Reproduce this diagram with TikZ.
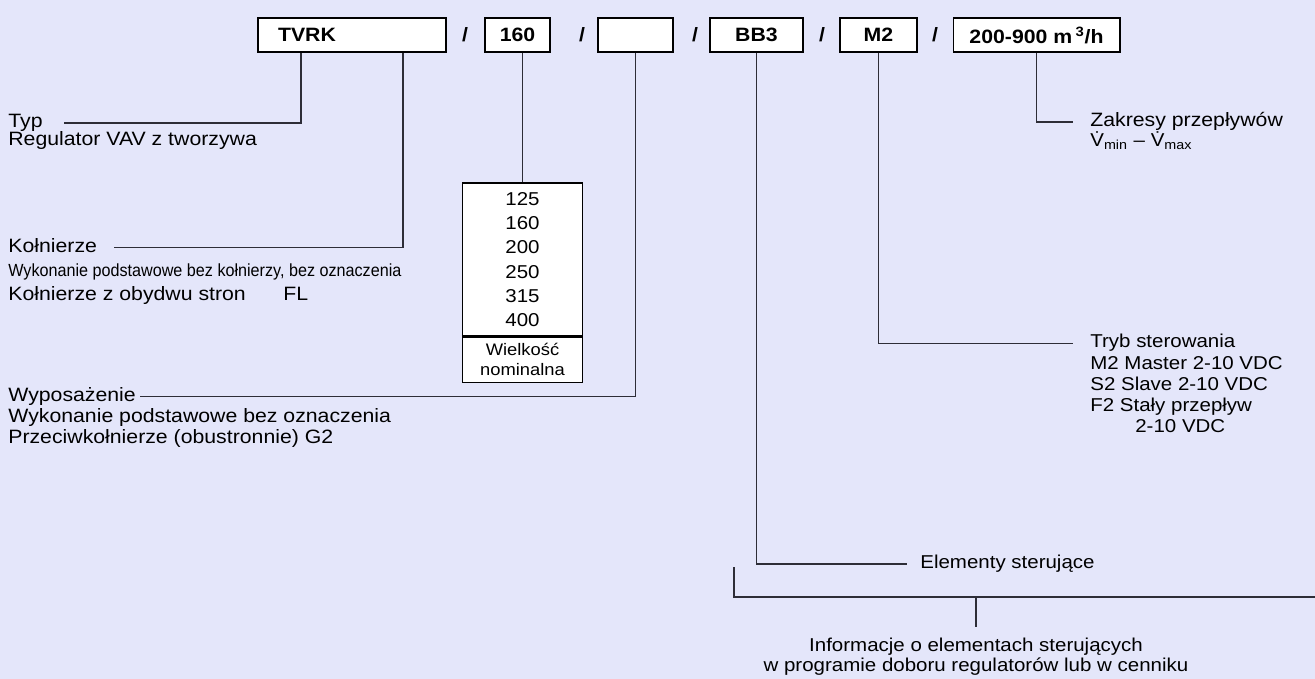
\documentclass[tikz,border=0pt]{standalone}
\usepackage{fontspec}
\setmainfont[FakeStretch=1.1]{Liberation Sans}
\newfontfamily\narrowfont[FakeStretch=0.92]{Liberation Sans}
\usetikzlibrary{positioning}
\definecolor{bgpanel}{RGB}{228,230,250}
\definecolor{leadgray}{RGB}{45,45,55}
\begin{document}
\begin{tikzpicture}[
  x=0.02cm, y=-0.02cm,
  codebox/.style={rectangle, draw=black, fill=white, line width=0.6pt, minimum height=0.68cm, inner sep=0pt, font=\fontsize{11}{12}\selectfont\bfseries},
  tablebox/.style={rectangle, draw=black, fill=white, line width=0.6pt, minimum width=2.4cm, inner sep=0pt, align=center},
  slash/.style={inner sep=0pt, font=\fontsize{11}{12}\selectfont\bfseries},
  lbltitle/.style={anchor=mid west, inner sep=0pt},
  lbltext/.style={anchor=base west, inner sep=0pt, align=left},
  leftfont/.style={font=\fontsize{11}{11.9}\selectfont},
  lead/.style={draw=leadgray, line width=0.7pt},
  font=\fontsize{10.6}{11.9}\selectfont
]
\fill[bgpanel] (0,0) rectangle (1315,679);
\useasboundingbox (0,0) rectangle (1315,679);

% code boxes
\node[codebox, minimum width=3.76cm, text width=2.96cm, inner xsep=0.4cm, align=left] (tvrk) at (352,35) {TVRK};
\node[codebox, minimum width=1.3cm] (size) at (517.5,35) {160};
\node[codebox, minimum width=1.5cm] (equip) at (635.5,35) {};
\node[codebox, minimum width=1.86cm] (ctrl) at (756.5,35) {BB3};
\node[codebox, minimum width=1.54cm] (mode) at (878.5,35) {M2};
\node[codebox, minimum width=3.34cm] (range) at (1036.5,35) {200-900 m\,\textsuperscript{3}/h};
\foreach \x [count=\i] in {465,582,695,822,935}
  \node[slash] (sl\i) at (\x,35) {/};

% nominal sizes
\node[tablebox, minimum height=3.06cm, font=\fontsize{10.6}{13.8}\selectfont] (sizes) at (522.5,259.5) {125\\160\\200\\250\\315\\400};
\node[tablebox, minimum height=0.9cm, anchor=north, font=\fontsize{9.5}{11.3}\selectfont] (nominal) at (sizes.south) {Wielkość\\nominalna};
\draw[line width=1.4pt] (sizes.south west) -- (sizes.south east);

% left labels (multi-line texts sit on their last baseline)
\node[lbltitle, leftfont] (typ) at (8,123) {Typ};
\node[lbltext, leftfont] (typtxt) at (8,146) {Regulator VAV z tworzywa};
\node[lbltitle, leftfont] (flange) at (8,247.7) {Kołnierze};
\node[lbltext, font=\narrowfont\fontsize{10}{12}\selectfont] (flangetxt) at (8,276.7) {Wykonanie podstawowe bez kołnierzy, bez oznaczenia};
\node[lbltext, leftfont] (flangefl) at (8,300.7) {Kołnierze z obydwu stron\hspace{0.75cm}FL};
\node[lbltitle, leftfont] (equipt) at (8,396.5) {Wyposażenie};
\node[lbltext, leftfont] (equiptxt) at (8,443) {Wykonanie podstawowe bez oznaczenia\\Przeciwkołnierze (obustronnie) G2};

% right labels
\node[lbltitle, leftfont] (ranget) at (1090,122) {Zakresy przepływów};
\node[lbltext] (rangetxt) at (1090,147) {\.V\textsubscript{min} – \.V\textsubscript{max}};
\node[lbltitle] (modet) at (1090,343.3) {Tryb sterowania};
\node[lbltext] (modetxt) at (1090,432) {M2 Master 2-10 VDC\\S2 Slave 2-10 VDC\\F2 Stały przepływ\\\hspace*{0.9cm}2-10 VDC};
\node[lbltitle] (ctrlt) at (920,564) {Elementy sterujące};
\node[lbltext, anchor=base, align=center, font=\fontsize{10.6}{11.3}\selectfont] (info) at (976,671) {Informacje o elementach sterujących\\w programie doboru regulatorów lub w cenniku};
\coordinate (brtop) at (734,567);
\coordinate (brend) at (1315,597);

% leads
\draw[lead] ([xshift=-1.02cm]tvrk.south) |- ([xshift=0.42cm]typ.mid east);
\draw[lead] ([xshift=1.02cm]tvrk.south) |- ([xshift=0.34cm]flange.mid east);
\draw[lead] (sizes.north |- size.south) -- (sizes.north);
\draw[lead] (equip.south) |- ([xshift=0.08cm]equipt.mid east);
\draw[lead] (ctrl.south) |- ([xshift=-0.26cm]ctrlt.mid west);
\draw[lead] (mode.south) |- ([xshift=-0.34cm]modet.mid west);
\draw[lead] (range.south) |- ([xshift=-0.34cm]ranget.mid west);
\draw[lead] (brtop) |- (brend);
\draw[lead] (info.north |- brend) -- ([yshift=0.21cm]info.north);
\end{tikzpicture}
\end{document}
